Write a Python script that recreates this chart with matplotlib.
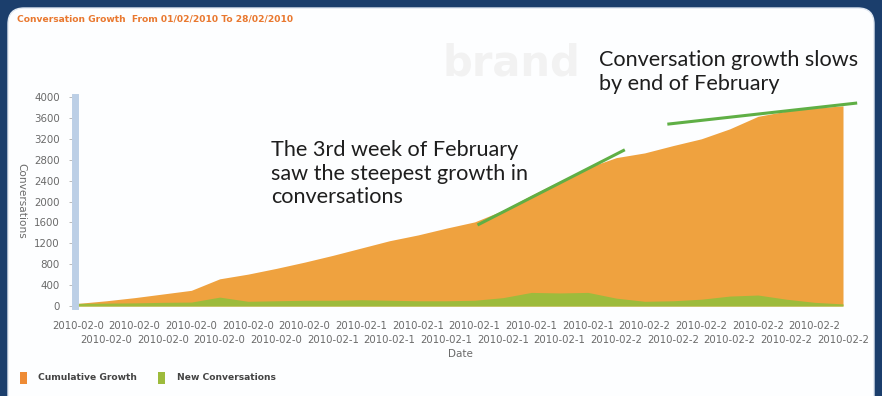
import matplotlib
matplotlib.use("Agg")
import matplotlib.pyplot as plt
from matplotlib.patches import FancyBboxPatch, Rectangle
import numpy as np

# ---------------- data ----------------
dates = ["2010-02-01", "2010-02-02", "2010-02-03", "2010-02-04", "2010-02-05",
         "2010-02-06", "2010-02-07", "2010-02-08", "2010-02-09", "2010-02-10",
         "2010-02-11", "2010-02-12", "2010-02-13", "2010-02-14", "2010-02-15",
         "2010-02-16", "2010-02-17", "2010-02-18", "2010-02-19", "2010-02-20",
         "2010-02-21", "2010-02-22", "2010-02-23", "2010-02-24", "2010-02-25",
         "2010-02-26", "2010-02-27", "2010-02-28"]
cumulative = [50, 100, 160, 230, 300, 520, 610, 720, 840, 970,
              1110, 1250, 1360, 1490, 1610, 1830, 2120, 2390, 2650, 2840,
              2930, 3070, 3200, 3390, 3630, 3730, 3790, 3830]
new_conv = [50, 55, 60, 70, 75, 170, 90, 100, 110, 110,
            120, 110, 100, 100, 110, 160, 260, 250, 260, 150,
            90, 100, 130, 190, 210, 130, 70, 40]
y_ticks = [0, 400, 800, 1200, 1600, 2000, 2400, 2800, 3200, 3600, 4000]

# annotation guide lines (day index, value)
guide1_x = [14.1, 19.3]
guide1_y = [1550, 2990]
guide2_x = [20.8, 27.5]
guide2_y = [3480, 3885]

ORANGE = "#EFA23F"
GREEN = "#9DBB3C"
LINE_GREEN = "#5FAF45"
NAVY = "#1B3E6C"
TICK_GRAY = "#6a6a6a"

W, H = 882, 396
fig = plt.figure(figsize=(W / 100, H / 100), dpi=100)
fig.patch.set_facecolor(NAVY)

# background panel in pixel coordinates
bg = fig.add_axes([0, 0, 1, 1])
bg.set_xlim(0, W)
bg.set_ylim(H, 0)
bg.axis("off")
bg.add_patch(FancyBboxPatch((8, 8), 866, 420, boxstyle="round,pad=0,rounding_size=16",
                            facecolor="#fdfeff", edgecolor="#dfe7f1", lw=1.0))
bg.text(442, 64, "brand", fontsize=30, fontweight="bold", color="#f2f2f2",
        va="center", ha="left", family="DejaVu Sans")
bg.text(17, 19, "Conversation Growth  From 01/02/2010 To 28/02/2010", fontsize=6.55,
        fontweight="bold", color="#E9782F", va="center", ha="left")

# legend
bg.add_patch(Rectangle((20, 372), 7, 12, facecolor="#EE8B35", edgecolor="none"))
bg.text(38, 378, "Cumulative Growth", fontsize=6.6, fontweight="bold", color="#444444",
        va="center", ha="left")
bg.add_patch(Rectangle((158, 372), 7, 12, facecolor="#9DBB3C", edgecolor="none"))
bg.text(177, 378, "New Conversations", fontsize=6.6, fontweight="bold", color="#444444",
        va="center", ha="left")

# main axes
L, R, B, T = 78, 843, 306, 97
ax = fig.add_axes([L / W, 1 - B / H, (R - L) / W, (B - T) / H])
ax.patch.set_alpha(0)
x = np.arange(len(dates))
ax.fill_between(x, 0, cumulative, color=ORANGE, lw=0)
ax.fill_between(x, 0, new_conv, color=GREEN, lw=0)
ax.set_xlim(x[0], x[-1])
ax.set_ylim(0, 4000)

for s in ["top", "right", "bottom"]:
    ax.spines[s].set_visible(False)
ax.spines["left"].set_color("#bccfe6")
ax.spines["left"].set_linewidth(5)
ax.spines["left"].set_position(("outward", 2))

ax.set_yticks(y_ticks)
ax.set_yticklabels([str(v) for v in y_ticks])
ax.tick_params(axis="y", length=4, width=0.6, color="#b0b0b0", pad=7,
               labelsize=7.4, labelcolor=TICK_GRAY)

short = [d[:9] for d in dates]
ax.set_xticks(x[::2])
ax.set_xticklabels(short[::2])
ax.set_xticks(x[1::2], minor=True)
ax.set_xticklabels(short[1::2], minor=True)
ax.tick_params(axis="x", which="major", length=0, pad=11, labelsize=7.3, labelcolor=TICK_GRAY)
ax.tick_params(axis="x", which="minor", length=0, pad=21, labelsize=7.3, labelcolor=TICK_GRAY)

bg.text(460, 354, "Date", fontsize=7.5, color=TICK_GRAY, ha="center", va="center")
bg.text(21, 201, "Conversations", fontsize=7.6, color=TICK_GRAY, ha="center", va="center",
        rotation=270)

# guide lines
ax.plot(guide1_x, guide1_y, color=LINE_GREEN, lw=2.2, clip_on=False, solid_capstyle="butt")
ax.plot(guide2_x, guide2_y, color=LINE_GREEN, lw=2.2, clip_on=False, solid_capstyle="butt")

# annotations
bg.text(271, 140, "The 3rd week of February\nsaw the steepest growth in\nconversations",
        fontsize=15.6, family="Lato", color="#1e1e1e", va="top", ha="left", linespacing=1.22)
bg.text(599, 50, "Conversation growth slows\nby end of February",
        fontsize=15.6, family="Lato", color="#1e1e1e", va="top", ha="left", linespacing=1.22,
        bbox=dict(facecolor="#fdfeff", edgecolor="none", pad=3))

fig.savefig("out.png", dpi=100, facecolor=fig.get_facecolor())
